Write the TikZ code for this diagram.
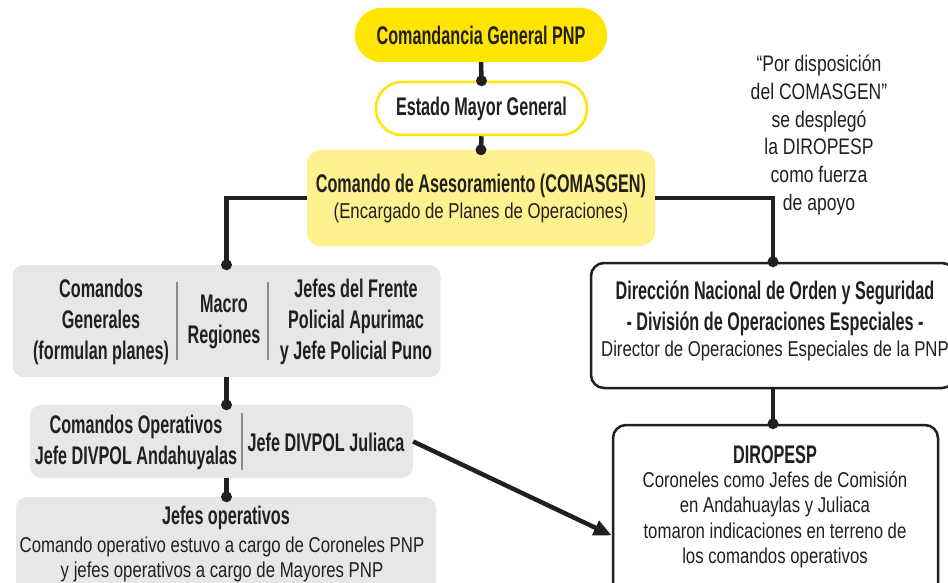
\documentclass[tikz,border=0pt]{standalone}
\usepackage{fontspec}
\setmainfont{Liberation Sans}
\newfontfamily\fb[FakeStretch=0.635]{Liberation Sans}
\newfontfamily\fr[FakeStretch=0.78]{Liberation Sans}
\usetikzlibrary{arrows.meta}
\definecolor{ink}{HTML}{231F20}
\definecolor{ytop}{HTML}{FFE500}
\definecolor{ypale}{HTML}{FEF28E}
\definecolor{gbox}{HTML}{E6E7E8}
\definecolor{sepc}{HTML}{8A8A8A}
\tikzset{
  bt/.style={font=\fb\bfseries\fontsize{25.5}{31.2}\selectfont, text=ink, align=center, inner sep=0pt},
  rt/.style={font=\fr\fontsize{21.5}{25.5}\selectfont, text=ink, align=center, inner sep=0pt},
  note/.style={font=\fr\fontsize{22.5}{27.7}\selectfont, text=ink, align=center, inner sep=0pt},
  conn/.style={line width=4.5pt, draw=ink},
  graybox/.style={fill=gbox, draw=none, rounded corners=11pt, inner sep=0pt},
  blackbox/.style={fill=white, draw=ink, line width=2.5pt, rounded corners=13pt, inner sep=0pt},
  sepline/.style={draw=sepc, line width=1.2pt},
}
\begin{document}
\begin{tikzpicture}[x=1pt,y=-1pt]
\useasboundingbox (0,0) rectangle (948,583);

% top pills
\node[bt, fill=ytop, draw=ytop, minimum width=252pt, minimum height=54pt, rounded corners=27pt] (cgp) at (481,35) {Comandancia General PNP};
\node[bt, fill=white, draw=ytop, line width=2.5pt, minimum width=211pt, minimum height=53pt, rounded corners=26pt] (emg) at (481.5,108.5) {Estado Mayor General};

% COMASGEN
\node[fill=ypale, draw=none, rounded corners=14pt, minimum width=348pt, minimum height=96pt, inner sep=0pt] (com) at (481,198) {};
\node[bt] (comT1) at (481,186) {Comando de Asesoramiento (COMASGEN)};
\node[rt] (comT2) at (481,213) {(Encargado de Planes de Operaciones)};

% left gray boxes
\node[graybox, minimum width=428pt, minimum height=112pt] (gb1) at (226.5,321) {};
\node[bt] (gb1a) at (101,322) {Comandos\\Generales\\(formulan planes)};
\node[bt] (gb1b) at (224,322) {Macro\\Regiones};
\node[bt] (gb1c) at (356,322) {Jefes del Frente\\Policial Apurimac\\y Jefe Policial Puno};
\coordinate (s1t) at (177,282); \coordinate (s1b) at (177,360);
\coordinate (s2t) at (268,282); \coordinate (s2b) at (268,360);
\draw[sepline] (s1t) -- (s1b);
\draw[sepline] (s2t) -- (s2b);

\node[graybox, minimum width=383pt, minimum height=73pt] (gb2) at (221.5,441.5) {};
\node[bt] (gb2a) at (136,442.5) {Comandos Operativos\\Jefe DIVPOL Andahuyalas};
\node[bt] (gb2b) at (326,442) {Jefe DIVPOL Juliaca};
\coordinate (s3t) at (242,413); \coordinate (s3b) at (242,470);
\draw[sepline] (s3t) -- (s3b);

\node[graybox, minimum width=420pt, minimum height=100pt] (gb3) at (226,547) {};
\node[bt] (gb3a) at (226,518) {Jefes operativos};
\node[rt] (gb3b) at (222,559.5) {Comando operativo estuvo a cargo de Coroneles PNP\\y jefes operativos a cargo de Mayores PNP};

% right boxes
\node[blackbox, minimum width=364pt, minimum height=125pt] (rb1) at (773,325.5) {};
\node[bt] (rb1a) at (775,308.5) {Dirección Nacional de Orden y Seguridad\\- División de Operaciones Especiales -};
\node[rt] (rb1b) at (775,350.5) {Director de Operaciones Especiales de la PNP};

\node[blackbox, minimum width=325pt, minimum height=175pt] (rb2) at (775.5,512.5) {};
\node[bt] (rb2a) at (775,455) {DIROPESP};
\node[rt] (rb2b) at (775,520) {Coroneles como Jefes de Comisión\\en Andahuaylas y Juliaca\\tomaron indicaciones en terreno de\\los comandos operativos};

% annotation
\node[note] (ann) at (819,135) {“Por disposición\\del COMASGEN”\\se desplegó\\la DIROPESP\\como fuerza\\de apoyo};

% connectors
\draw[conn] (cgp.south) -- (emg.north);
\fill[ink] (emg.north) circle (5.5pt);
\draw[conn] (emg.south) -- (com.north);
\fill[ink] (com.north) circle (5.5pt);
\draw[conn] (com.west) -| (gb1.north);
\fill[ink] (gb1.north) circle (5.5pt);
\draw[conn] (com.east) -| (rb1.north);
\fill[ink] (rb1.north) circle (5.5pt);
\draw[conn] (gb1.south) -- (gb1.south |- gb2.north);
\fill[ink] (gb1.south |- gb2.north) circle (5.5pt);
\draw[conn] (gb1.south |- gb2.south) -- (gb1.south |- gb3.north);
\fill[ink] (gb1.south |- gb3.north) circle (5.5pt);
\draw[conn] (rb1.south) -- (rb1.south |- rb2.north);
\fill[ink] (rb1.south |- rb2.north) circle (5.5pt);
\draw[conn, -{Triangle[length=18pt,width=15pt]}] (gb2.east) -- ([yshift=-23pt]rb2.west);
\end{tikzpicture}
\end{document}
